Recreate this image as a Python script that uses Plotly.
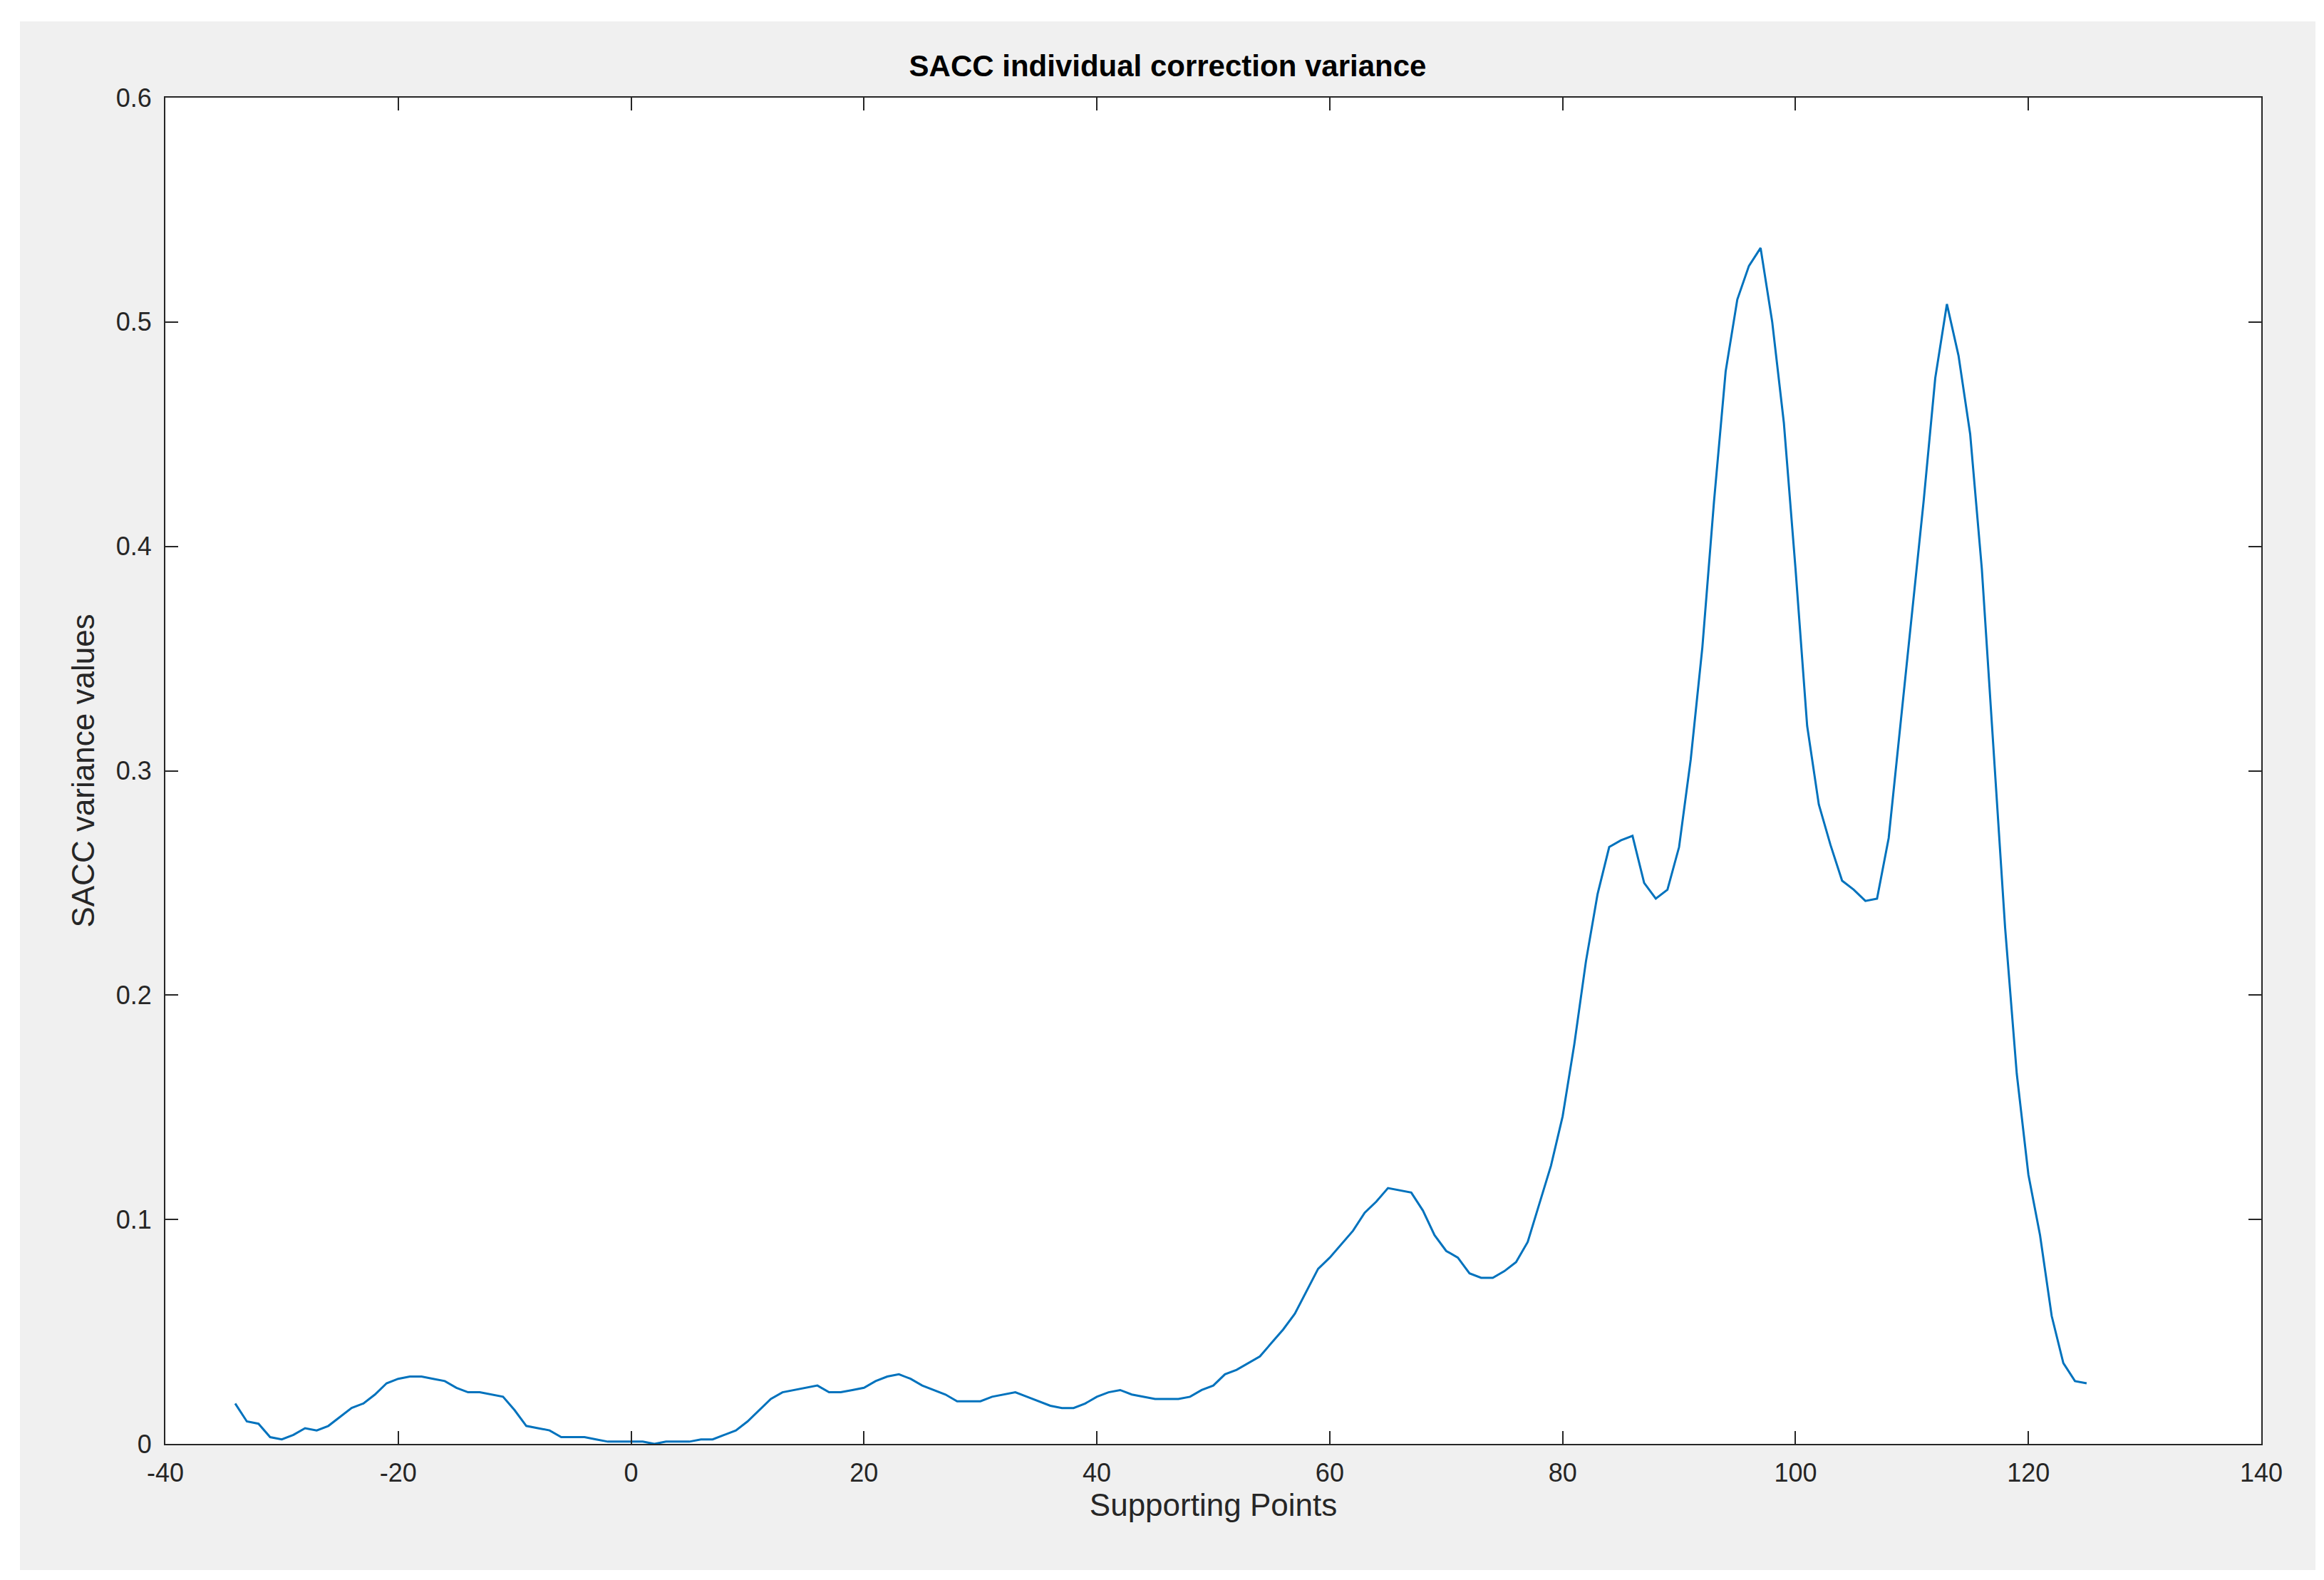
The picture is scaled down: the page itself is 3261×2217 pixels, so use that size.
import plotly.graph_objects as go

x = list(range(-34, 126))
y = [0.018,0.010,0.009,0.003,0.002,0.004,0.007,0.006,0.008,0.012,0.016,0.018,0.022,0.027,0.029,0.030,0.030,0.029,0.028,0.025,
     0.023,0.023,0.022,0.021,0.015,0.008,0.007,0.006,0.003,0.003,0.003,0.002,0.001,0.001,0.001,0.001,0.000,0.001,0.001,0.001,
     0.002,0.002,0.004,0.006,0.010,0.015,0.020,0.023,0.024,0.025,0.026,0.023,0.023,0.024,0.025,0.028,0.030,0.031,0.029,0.026,
     0.024,0.022,0.019,0.019,0.019,0.021,0.022,0.023,0.021,0.019,0.017,0.016,0.016,0.018,0.021,0.023,0.024,0.022,0.021,0.020,
     0.020,0.020,0.021,0.024,0.026,0.031,0.033,0.036,0.039,0.045,0.051,0.058,0.068,0.078,0.083,0.089,0.095,0.103,0.108,0.114,
     0.113,0.112,0.104,0.093,0.086,0.083,0.076,0.074,0.074,0.077,0.081,0.090,0.107,0.124,0.146,0.178,0.215,0.245,0.266,0.269,
     0.271,0.250,0.243,0.247,0.266,0.305,0.355,0.420,0.478,0.510,0.525,0.533,0.500,0.455,0.390,0.320,0.285,0.267,0.251,0.247,
     0.242,0.243,0.270,0.320,0.370,0.420,0.475,0.508,0.485,0.450,0.390,0.310,0.230,0.165,0.120,0.093,0.057,0.036,0.028,0.027]

xticks = [-40, -20, 0, 20, 40, 60, 80, 100, 120, 140]
xtext = ["-40", "-20", "0", "20", "40", "60", "80", "100", "120", "140"]
yticks = [0, 0.1, 0.2, 0.3, 0.4, 0.5, 0.6]
ytext = ["0", "0.1", "0.2", "0.3", "0.4", "0.5", "0.6"]

W, H = 3261, 2217
L, R, T, B = 224, 96, 129, 199
pw, ph = W - L - R, H - T - B
def px(p): return (p - L) / pw
def py(p): return 1 - (p - T) / ph

fig = go.Figure(go.Scatter(x=x, y=y, mode="lines", line=dict(color="#0072BD", width=3)))
font = "Liberation Sans, Arial, sans-serif"
ax = dict(showgrid=False, zeroline=False, showline=True, linecolor="#262626", linewidth=2,
          mirror="ticks", ticks="inside", ticklen=18, tickwidth=2, tickcolor="#262626",
          tickfont=dict(size=36, color="#262626", family=font))
fig.update_layout(
    width=W, height=H, margin=dict(l=L, r=R, t=T, b=B),
    paper_bgcolor="white", plot_bgcolor="white", showlegend=False,
    title=dict(text="<b>SACC individual correction variance</b>", x=0.5, xanchor="center",
               y=1 - 84 / H, yanchor="middle", font=dict(size=42, color="black", family=font)),
    xaxis=dict(ax, range=[-40, 140], tickvals=xticks, ticktext=xtext, ticklabelstandoff=8,
               title=dict(text="Supporting Points", font=dict(size=44, color="#262626", family=font), standoff=10)),
    yaxis=dict(ax, range=[0, 0.6], tickvals=yticks, ticktext=ytext, ticklabelstandoff=10,
               title=dict(text="SACC variance values", font=dict(size=44, color="#262626", family=font), standoff=16)),
    shapes=[
        dict(type="rect", xref="paper", yref="paper", x0=px(20), x1=px(W - 20), y0=py(H - 22), y1=py(22),
             fillcolor="#f0f0f0", line=dict(width=0), layer="below"),
        dict(type="rect", xref="paper", yref="paper", x0=0, x1=1, y0=0, y1=1,
             fillcolor="white", line=dict(width=0), layer="below"),
    ],
)
fig.write_html("out.html")
